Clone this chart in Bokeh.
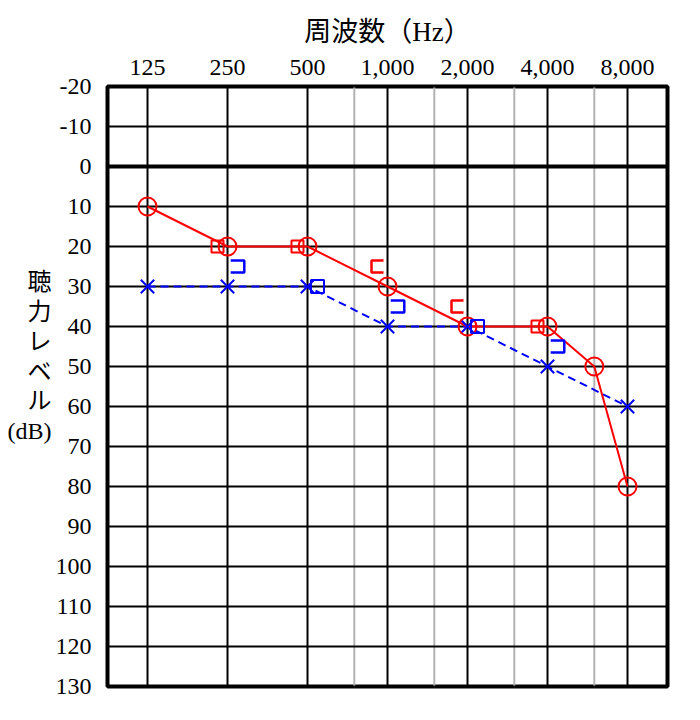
import numpy as np
from bokeh.plotting import figure
from bokeh.models import Range1d, LinearAxis, FixedTicker, Span
from bokeh.embed import file_html
from bokeh.resources import INLINE

# ---- data ----
freqs = [125, 250, 500, 1000, 2000, 4000, 8000]
freq_labels = ["125", "250", "500", "1,000", "2,000", "4,000", "8,000"]
half_octave_freqs = [750, 1500, 3000, 6000]
db_ticks = list(range(-20, 131, 10))

right_air_freq = [125, 250, 500, 1000, 2000, 4000, 6000, 8000]
right_air_db = [10, 20, 20, 30, 40, 40, 50, 80]
left_air_freq = [125, 250, 500, 1000, 2000, 4000, 8000]
left_air_db = [30, 30, 30, 40, 40, 50, 60]

right_bone_masked_freq = [250, 500, 4000]
right_bone_masked_db = [20, 20, 40]
right_bone_freq = [1000, 2000]
right_bone_db = [25, 35]
left_bone_freq = [250, 1000, 4000]
left_bone_db = [25, 35, 45]
left_bone_masked_freq = [500, 2000]
left_bone_masked_db = [30, 40]


def oct_idx(f):
    return np.log2(np.asarray(f, dtype=float) / 125.0)


SERIF = "Liberation Serif, Noto Sans CJK JP"

p = figure(width=700, height=720, output_backend="svg", toolbar_location=None,
           x_range=Range1d(-0.5, 6.5), y_range=Range1d(130, -20),
           min_border_left=107, min_border_right=33, min_border_top=86, min_border_bottom=34,
           x_axis_location=None, y_axis_location=None)

p.title.text = "周波数（Hz）"
p.title.align = "center"
p.title.text_font = SERIF
p.title.text_font_size = "27px"
p.title.text_font_style = "normal"
p.title.text_color = "black"
p.title.standoff = 19

# top frequency axis
xa = LinearAxis(ticker=FixedTicker(ticks=list(oct_idx(freqs))))
xa.major_label_overrides = {float(k): v for k, v in zip(oct_idx(freqs), freq_labels)}
xa.major_label_overrides.update({int(k): v for k, v in zip(oct_idx(freqs), freq_labels)})
xa.axis_line_color = None
xa.major_tick_line_color = None
xa.minor_tick_line_color = None
xa.major_label_text_font = SERIF
xa.major_label_text_font_size = "24px"
xa.major_label_text_color = "black"
xa.major_label_standoff = 6
p.add_layout(xa, "above")

# left dB axis
ya = LinearAxis(ticker=FixedTicker(ticks=db_ticks))
ya.major_label_overrides = {t: str(t) for t in db_ticks}
ya.axis_line_color = None
ya.major_tick_line_color = None
ya.minor_tick_line_color = None
ya.major_label_text_font = SERIF
ya.major_label_text_font_size = "24px"
ya.major_label_text_color = "black"
ya.major_label_standoff = 10
ya.axis_label = "聴\n力\nレ\nベ\nル\n(dB)\n \n "
ya.axis_label_orientation = "horizontal"
ya.axis_label_text_font = SERIF
ya.axis_label_text_font_size = "24px"
ya.axis_label_text_font_style = "normal"
ya.axis_label_text_color = "black"
ya.axis_label_text_line_height = 1.15
ya.axis_label_standoff = 1
p.add_layout(ya, "left")

# grids
p.xgrid.grid_line_color = None
p.ygrid.grid_line_color = None
for f in half_octave_freqs:
    p.add_layout(Span(location=float(oct_idx(f)), dimension="height",
                      line_color="#b3b3b3", line_width=2, level="underlay"))
for f in freqs:
    p.add_layout(Span(location=float(oct_idx(f)), dimension="height",
                      line_color="black", line_width=2, level="underlay"))
for t in db_ticks:
    p.add_layout(Span(location=t, dimension="width", line_color="black",
                      line_width=4 if t == 0 else 2, level="underlay"))

p.outline_line_color = "black"
p.outline_line_width = 4
p.background_fill_color = "white"

# air conduction
rx = oct_idx(right_air_freq)
lx = oct_idx(left_air_freq)
p.line(lx, left_air_db, line_color="blue", line_width=2, line_dash="8 5")
p.line(rx, right_air_db, line_color="red", line_width=2)
p.scatter(lx, left_air_db, marker="x", size=19, line_color="blue", line_width=2)
p.scatter(rx, right_air_db, marker="circle", size=18, line_color="red",
          line_width=2, fill_color=None)

# masked bone conduction (closed squares beside the air marks)
OFF = 0.125
p.scatter(oct_idx(right_bone_masked_freq) - OFF, right_bone_masked_db, marker="square",
          size=12, line_color="red", line_width=2, fill_color=None)
p.scatter(oct_idx(left_bone_masked_freq) + OFF, left_bone_masked_db, marker="square",
          size=13, line_color="blue", line_width=2, fill_color=None)

# unmasked bone conduction brackets
H = 1.5
bx = oct_idx(right_bone_freq)
xs_r = [[x - 0.05, x - 0.2, x - 0.2, x - 0.05] for x in bx]
ys_r = [[d - H, d - H, d + H, d + H] for d in right_bone_db]
p.multi_line(xs_r, ys_r, line_color="red", line_width=2.5)
bxl = oct_idx(left_bone_freq)
xs_l = [[x + 0.04, x + 0.21, x + 0.21, x + 0.04] for x in bxl]
ys_l = [[d - H, d - H, d + H, d + H] for d in left_bone_db]
p.multi_line(xs_l, ys_l, line_color="blue", line_width=2.5)

open("out.html", "w").write(file_html(p, INLINE))
